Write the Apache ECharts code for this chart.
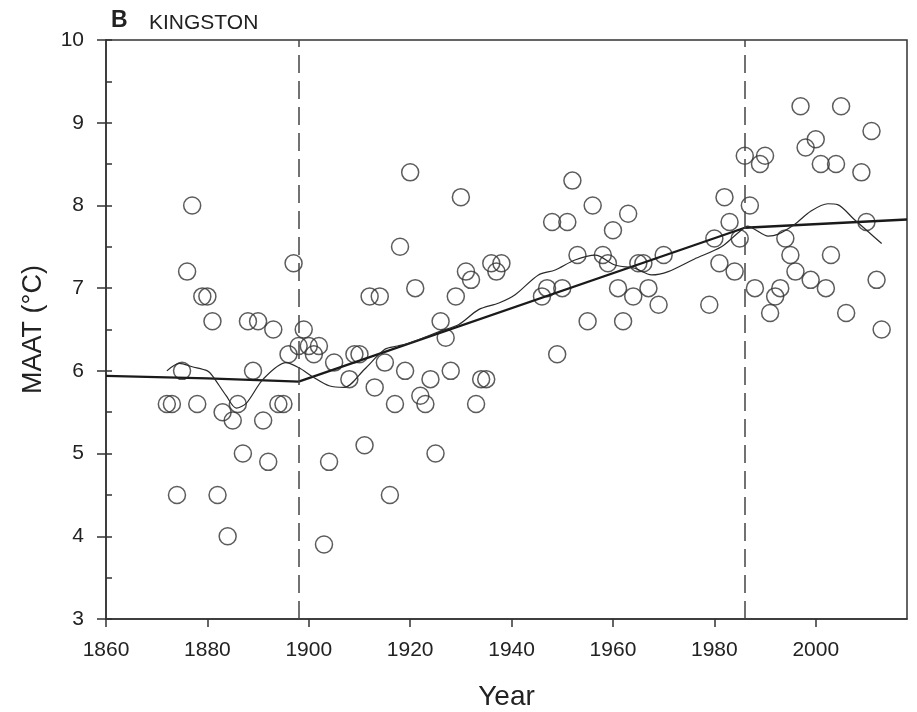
<!DOCTYPE html>
<html>
<head>
<meta charset="utf-8">
<script src="https://cdn.jsdelivr.net/npm/echarts@6/dist/echarts.min.js"></script>
<style>
  html, body { margin: 0; padding: 0; background: #fff; }
  #chart { width: 917px; height: 712px; }
</style>
</head>
<body>
<div id="chart"></div>
<script>
// annual mean air temperature, Kingston
var years = [1872, 1873, 1874, 1875, 1876, 1877, 1878, 1879, 1880, 1881, 1882, 1883, 1884, 1885, 1886, 1887, 1888, 1889, 1890, 1891,
  1892, 1893, 1894, 1895, 1896, 1897, 1898, 1899, 1900, 1901, 1902, 1903, 1904, 1905, 1908, 1909, 1910, 1911, 1912, 1913,
  1914, 1915, 1916, 1917, 1918, 1919, 1920, 1921, 1922, 1923, 1924, 1925, 1926, 1927, 1928, 1929, 1930, 1931, 1932, 1933,
  1934, 1935, 1936, 1937, 1938, 1946, 1947, 1948, 1949, 1950, 1951, 1952, 1953, 1955, 1956, 1958, 1959, 1960, 1961, 1962,
  1963, 1964, 1965, 1966, 1967, 1969, 1970, 1979, 1980, 1981, 1982, 1983, 1984, 1985, 1986, 1987, 1988, 1989, 1990, 1991,
  1992, 1993, 1994, 1995, 1996, 1997, 1998, 1999, 2000, 2001, 2002, 2003, 2004, 2005, 2006, 2009, 2010, 2011, 2012, 2013];
var maat = [5.6, 5.6, 4.5, 6.0, 7.2, 8.0, 5.6, 6.9, 6.9, 6.6, 4.5, 5.5, 4.0, 5.4, 5.6, 5.0, 6.6, 6.0, 6.6, 5.4,
  4.9, 6.5, 5.6, 5.6, 6.2, 7.3, 6.3, 6.5, 6.3, 6.2, 6.3, 3.9, 4.9, 6.1, 5.9, 6.2, 6.2, 5.1, 6.9, 5.8,
  6.9, 6.1, 4.5, 5.6, 7.5, 6.0, 8.4, 7.0, 5.7, 5.6, 5.9, 5.0, 6.6, 6.4, 6.0, 6.9, 8.1, 7.2, 7.1, 5.6,
  5.9, 5.9, 7.3, 7.2, 7.3, 6.9, 7.0, 7.8, 6.2, 7.0, 7.8, 8.3, 7.4, 6.6, 8.0, 7.4, 7.3, 7.7, 7.0, 6.6,
  7.9, 6.9, 7.3, 7.3, 7.0, 6.8, 7.4, 6.8, 7.6, 7.3, 8.1, 7.8, 7.2, 7.6, 8.6, 8.0, 7.0, 8.5, 8.6, 6.7,
  6.9, 7.0, 7.6, 7.4, 7.2, 9.2, 8.7, 7.1, 8.8, 8.5, 7.0, 7.4, 8.5, 9.2, 6.7, 8.4, 7.8, 8.9, 7.1, 6.5];

// segmented trend (thick line)
var trendYears = [1860, 1880, 1894, 1898, 1986, 2018];
var trendVals = [5.94, 5.91, 5.88, 5.87, 7.73, 7.83];

// smoothed curve (thin line)
var smoothYears = [1872, 1874.5, 1877, 1880, 1881, 1883.7, 1885.7, 1887.7, 1891, 1895.5, 1898, 1901, 1904, 1907, 1911, 1915,
  1917.5, 1920, 1926, 1929.6, 1933.5, 1937.5, 1940.7, 1945.3, 1948.6, 1952.5, 1956.5, 1960.4, 1964.3, 1967.6, 1970.9, 1976,
  1981.4, 1984.7, 1986.6, 1988, 1990.6, 1992.5, 1995.8, 1999, 2002.4, 2004.3, 2007.6, 2010.2, 2013];
var smoothVals = [6.0, 6.09, 6.05, 6.0, 5.94, 5.7, 5.55, 5.61, 5.9, 6.1, 6.04, 5.92, 5.82, 5.8, 6.02, 6.26,
  6.3, 6.34, 6.48, 6.56, 6.74, 6.82, 6.92, 7.16, 7.22, 7.34, 7.4, 7.28, 7.24, 7.16, 7.2, 7.35,
  7.5, 7.67, 7.75, 7.71, 7.63, 7.65, 7.77, 7.93, 8.02, 8.01, 7.83, 7.69, 7.54];

var breakYears = [1898, 1986];
var xTicks = [1860, 1880, 1900, 1920, 1940, 1960, 1980, 2000];
var yTicks = [3, 4, 5, 6, 7, 8, 9, 10];
var yMinor = [3, 3.5, 4, 4.5, 5, 5.5, 6, 6.5, 7, 7.5, 8, 8.5, 9, 9.5, 10];

function pairs(xs, ys) {
  return xs.map(function (x, i) { return [x, ys[i]]; });
}

var font = 'Liberation Sans, Arial, sans-serif';
var ink = '#333';

var chart = echarts.init(document.getElementById('chart'));
var option = {
  backgroundColor: '#fff',
  animation: false,
  title: [{
    text: 'B', left: 106, top: 4,
    textStyle: { fontFamily: font, fontWeight: 'bold', fontSize: 23, color: '#222' }
  }, {
    text: 'KINGSTON', left: 144, top: 8,
    textStyle: { fontFamily: font, fontWeight: 'normal', fontSize: 21, color: '#222' }
  }],
  grid: {
    left: 106, right: 10, top: 40, bottom: 93,
    outerBoundsMode: 'none',
    show: true, borderColor: ink, borderWidth: 1.5, backgroundColor: 'transparent'
  },
  xAxis: {
    type: 'value', min: 1860, max: 2018,
    name: 'Year', nameLocation: 'middle', nameGap: 64,
    nameTextStyle: { fontFamily: font, fontSize: 28, color: '#222' },
    splitLine: { show: false },
    axisLine: { lineStyle: { color: ink, width: 1.5 } },
    axisTick: { customValues: xTicks, length: 8, lineStyle: { color: ink, width: 1.5 } },
    axisLabel: {
      customValues: xTicks, margin: 21, fontFamily: font, fontSize: 21, color: '#222',
      formatter: function (v) { return String(v); }
    }
  },
  yAxis: [{
    type: 'value', min: 3, max: 10, interval: 1,
    name: 'MAAT (°C)', nameLocation: 'middle', nameGap: 59,
    nameTextStyle: { fontFamily: font, fontSize: 27, color: '#222' },
    splitLine: { show: false },
    axisLine: { lineStyle: { color: ink, width: 1.5 } },
    axisTick: { customValues: yTicks, length: 9, lineStyle: { color: ink, width: 1.5 } },
    axisLabel: { customValues: yTicks, margin: 22, fontFamily: font, fontSize: 21, color: '#222' }
  }, {
    type: 'value', min: 3, max: 10, position: 'left', offset: 0,
    splitLine: { show: false },
    axisLine: { show: false },
    axisTick: { customValues: yMinor, inside: true, length: 6, lineStyle: { color: ink, width: 1.5 } },
    axisLabel: { show: false }
  }],
  series: [{
    type: 'scatter',
    data: pairs(years, maat),
    symbol: 'circle', symbolSize: 17,
    itemStyle: { color: 'rgba(0,0,0,0)', borderColor: '#333', borderWidth: 1.5 },
    markLine: {
      silent: true, symbol: 'none', label: { show: false },
      lineStyle: { color: '#444', width: 1.5, type: [18, 8] },
      data: breakYears.map(function (y) { return { xAxis: y }; })
    }
  }, {
    type: 'line',
    data: pairs(trendYears, trendVals),
    showSymbol: false,
    lineStyle: { color: '#1a1a1a', width: 2.3 }
  }, {
    type: 'line',
    data: pairs(smoothYears, smoothVals),
    showSymbol: false, smooth: 0.3,
    lineStyle: { color: '#2a2a2a', width: 1.2 }
  }]
};
chart.setOption(option);
</script>
</body>
</html>
